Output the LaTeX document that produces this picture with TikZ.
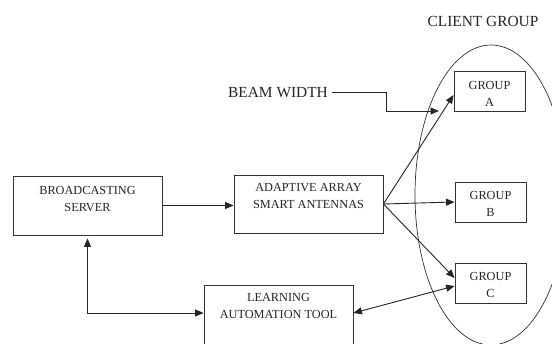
\documentclass[tikz,border=0pt]{standalone}
\usepackage{fontspec}
\setmainfont{Liberation Serif}
\usetikzlibrary{arrows.meta,calc,shapes.geometric}
\tikzset{
  box/.style={draw=black!80, line width=0.9pt, inner sep=0pt},
  txt/.style={text=black!85, align=center, font=\fontsize{12.3}{16.5}\selectfont, inner sep=0pt},
  bigtxt/.style={text=black!85, font=\fontsize{15.4}{18}\selectfont, inner sep=0pt},
  arr/.style={draw=black!85, line width=0.9pt, -{Triangle[length=8.5pt,width=7pt]}},
  darr/.style={draw=black!85, line width=0.9pt, {Triangle[length=8.5pt,width=7pt]}-{Triangle[length=8.5pt,width=7pt]}},
  line/.style={draw=black!85, line width=0.9pt}
}
\begin{document}
\begin{tikzpicture}[x=1pt,y=-1pt]
\fill[white] (0,0) rectangle (552,343);
\useasboundingbox (0,0) rectangle (552,343);

% client group ellipse
\node[draw=black!80, line width=0.7pt, ellipse, minimum width=152pt, minimum height=300pt, inner sep=0pt] (client) at (491,195) {};

% boxes
\node[box, minimum width=149pt, minimum height=59pt] (server) at (87.5,205.5) {};
\node[box, minimum width=149pt, minimum height=58pt] (adaptive) at (308.5,204) {};
\node[box, minimum width=149pt, minimum height=65pt] (learning) at (278.5,317.5) {};
\node[box, minimum width=71pt, minimum height=40pt] (groupA) at (489.5,91) {};
\node[box, minimum width=71pt, minimum height=40pt] (groupB) at (490.5,202) {};
\node[box, minimum width=71pt, minimum height=40pt] (groupC) at (490.5,283) {};

% texts
\node[txt] (servertxt) at (87.5,199) {BROADCASTING\\SERVER};
\node[txt] (adaptivetxt) at (308.5,196) {ADAPTIVE ARRAY\\SMART ANTENNAS};
\node[txt] (learningtxt) at (278.5,306) {LEARNING\\AUTOMATION TOOL};
\node[txt] (groupAtxt) at (489.5,94) {GROUP\\A};
\node[txt] (groupBtxt) at (490.5,204) {GROUP\\B};
\node[txt] (groupCtxt) at (490.5,285) {GROUP\\C};
\node[bigtxt] (clienttxt) at (483,21) {CLIENT GROUP};
\node[bigtxt] (beam) at (278,93) {BEAM WIDTH};

% connectors
\draw[arr] (server.east) -- (server.east -| adaptive.west);
\draw[arr] (adaptive.east) -- ($(groupA.west)+(0,4)$);
\draw[arr] (adaptive.east) -- (groupB.west);
\draw[arr] (adaptive.east) -- ($(groupC.west)+(0,-5)$);
\draw[darr] ($(learning.east)+(0,-4.5)$) -- ($(groupC.west)+(0,3)$);
\draw[darr, shorten <=3pt] (server.south) |- ($(learning.west)+(0,-4.5)$);

\coordinate (bend) at (386,111);
\coordinate (beamtip) at (439,111);
\draw[arr] ($(beam.east)+(4,-1)$) -| (bend) -- (beamtip);
\end{tikzpicture}
\end{document}
